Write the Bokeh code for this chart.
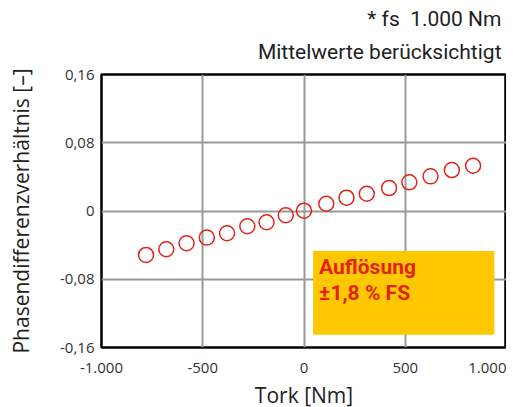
from bokeh.plotting import figure
from bokeh.models import (Range1d, FixedTicker, CustomJSTickFormatter, BoxAnnotation, Label, Title)
from bokeh.embed import file_html
from bokeh.resources import INLINE

# data
torque = [-780, -680, -580, -480, -380, -280, -185, -90, 0, 110, 210, 310, 420,
          520, 625, 730, 835]
ratio = [-0.0515, -0.0448, -0.0378, -0.0312, -0.0261, -0.0179, -0.0132, -0.0050,
         0.0004, 0.0085, 0.0156, 0.0202, 0.0269, 0.0336, 0.0406, 0.0480, 0.0530]
x_ticks = [-1000, -500, 0, 500, 1000]
y_ticks = [-0.16, -0.08, 0, 0.08, 0.16]
title_lines = ["Mittelwerte berücksichtigt", "* fs\u00a0 1.000 Nm"]
box_lines = ["Auflösung", "±1,8 % FS"]

RED = "#e2231a"
TICK_FONT = "Open Sans"
TITLE_FONT = "Roboto"

p = figure(frame_width=405, frame_height=273, output_backend="svg", toolbar_location=None,
           x_range=Range1d(-1000, 1000), y_range=Range1d(-0.16, 0.16),
           min_border_left=101, min_border_right=0, min_border_top=74,
           min_border_bottom=0)

p.background_fill_color = "white"
p.border_fill_color = "white"
p.outline_line_color = "black"
p.outline_line_width = 2.5

for txt, so in zip(title_lines, [22, -9]):
    p.add_layout(Title(text=txt, align="right", offset=5, standoff=so,
                       text_font=TITLE_FONT, text_font_size="21px",
                       text_font_style="normal", text_color="#222222"), "above")

p.xaxis.ticker = FixedTicker(ticks=x_ticks)
p.yaxis.ticker = FixedTicker(ticks=y_ticks)
p.xaxis.formatter = CustomJSTickFormatter(code="""
    if (tick == 0) return '0';
    const s = Math.abs(tick).toString();
    const t = s.length > 3 ? s.slice(0, s.length-3) + '.' + s.slice(s.length-3) : s;
    return (tick < 0 ? '-' : '') + t;
""")
p.yaxis.formatter = CustomJSTickFormatter(code="""
    if (Math.abs(tick) < 1e-9) return '0';
    return tick.toFixed(2).replace('.', ',');
""")

for ax in (p.xaxis, p.yaxis):
    ax.axis_line_color = None
    ax.major_tick_line_color = None
    ax.minor_tick_line_color = None
    ax.major_tick_in = 0
    ax.major_tick_out = 0
    ax.major_label_text_font = TICK_FONT
    ax.major_label_text_font_size = "15px"
    ax.major_label_text_color = "#333333"
    ax.axis_label_text_font = TICK_FONT
    ax.axis_label_text_font_size = "21px"
    ax.axis_label_text_font_style = "normal"
    ax.axis_label_text_color = "#222222"

p.xaxis.axis_label = "Tork [Nm]"
p.yaxis.axis_label = "Phasendifferenzverhältnis [–]"
p.xaxis.major_label_standoff = 15
p.yaxis.major_label_standoff = 7
p.xaxis.axis_label_standoff = 5
p.yaxis.axis_label_standoff = 22

p.grid.grid_line_color = "#999999"
p.grid.grid_line_width = 2

p.add_layout(BoxAnnotation(left=45, right=940, top=-0.047, bottom=-0.145,
                           fill_color="#fdc800", fill_alpha=1.0, line_color=None,
                           level="underlay"))

p.scatter(torque, ratio, marker="circle", size=15, fill_color=None,
          line_color=RED, line_width=1.5)

for txt, yv in zip(box_lines, [-0.0655, -0.0967]):
    p.add_layout(Label(x=45, y=yv, x_offset=6, text=txt,
                       text_font=TITLE_FONT, text_font_size="21px", text_font_style="bold",
                       text_color=RED, text_baseline="alphabetic"))

open("out.html", "w").write(file_html(p, INLINE))
